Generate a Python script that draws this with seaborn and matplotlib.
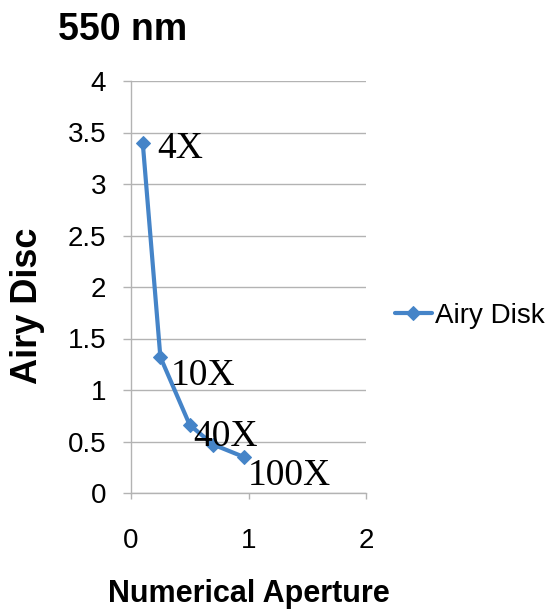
import matplotlib
matplotlib.use("Agg")
import matplotlib.pyplot as plt
import seaborn as sns
import pandas as pd

# values (550 nm, airy disc vs numerical aperture)
numerical_aperture = [0.1, 0.25, 0.5, 0.7, 0.96]
airy_disc = [3.4, 1.32, 0.66, 0.47, 0.35]
objective_labels = ["4X", "10X", "40X", None, "100X"]
x_ticks = [0, 1, 2]
y_ticks = [0, 0.5, 1, 1.5, 2, 2.5, 3, 3.5, 4]

df = pd.DataFrame({"na": numerical_aperture, "airy": airy_disc, "series": "Airy Disk"})

sns.set_theme(style="white")
plt.rcParams["font.family"] = ["Liberation Sans", "DejaVu Sans"]
plt.rcParams["text.color"] = "black"
plt.rcParams["axes.labelcolor"] = "black"
plt.rcParams["xtick.labelcolor"] = "black"
plt.rcParams["ytick.labelcolor"] = "black"

blue = "#4584C8"
grid_gray = "#b3b3b3"

fig = plt.figure(figsize=(5.55, 6.13), dpi=100)
ax = fig.add_axes([131 / 555, 1 - 493 / 613, 235 / 555, 412 / 613])

sns.lineplot(data=df, x="na", y="airy", hue="series", palette=[blue],
             marker="D", markersize=7, markeredgecolor=blue, linewidth=3,
             sort=False, ax=ax, legend=True)

ax.set_xlim(0, 2)
ax.set_ylim(0, 4)
ax.set_xticks(x_ticks)
ax.set_yticks(y_ticks)
ax.set_xticklabels([str(t) for t in x_ticks])
ax.set_yticklabels([f"{t:g}" for t in y_ticks])
ax.yaxis.grid(True, color=grid_gray, linewidth=1)
ax.set_axisbelow(True)

for side in ["top", "right"]:
    ax.spines[side].set_visible(False)
for side in ["left", "bottom"]:
    ax.spines[side].set_color(grid_gray)
    ax.spines[side].set_linewidth(1)

ax.tick_params(axis="y", direction="out", length=5.8, width=1, color=grid_gray,
               labelsize=20, pad=12, left=True)
ax.tick_params(axis="x", direction="out", length=4, width=1, color=grid_gray,
               labelsize=20, pad=21, bottom=True)

ax.set_xlabel("Numerical Aperture", fontsize=22, fontweight="bold", labelpad=18)
ax.set_ylabel("Airy Disc", fontsize=26, fontweight="bold")
ax.yaxis.set_label_coords(-0.365, 0.455)

# data labels next to the points
offsets = [(15, -15), (10, -28), (4, -21), None, (4, -28)]
for x, y, lab, off in zip(numerical_aperture, airy_disc, objective_labels, offsets):
    if lab is None:
        continue
    ax.annotate(lab, xy=(x, y), xytext=off, textcoords="offset pixels",
                ha="left", va="baseline", fontsize=27,
                family=["Liberation Serif", "DejaVu Serif"], color="black")

leg = ax.legend(loc="center left", bbox_to_anchor=(1.075, 0.43), frameon=False,
                fontsize=20, handlelength=1.35, handletextpad=0.1, borderaxespad=0)

fig.text(58 / 555, 1 - 30 / 613, "550 nm", fontsize=27, fontweight="bold",
         ha="left", va="center")

fig.savefig("out.png", dpi=100)
